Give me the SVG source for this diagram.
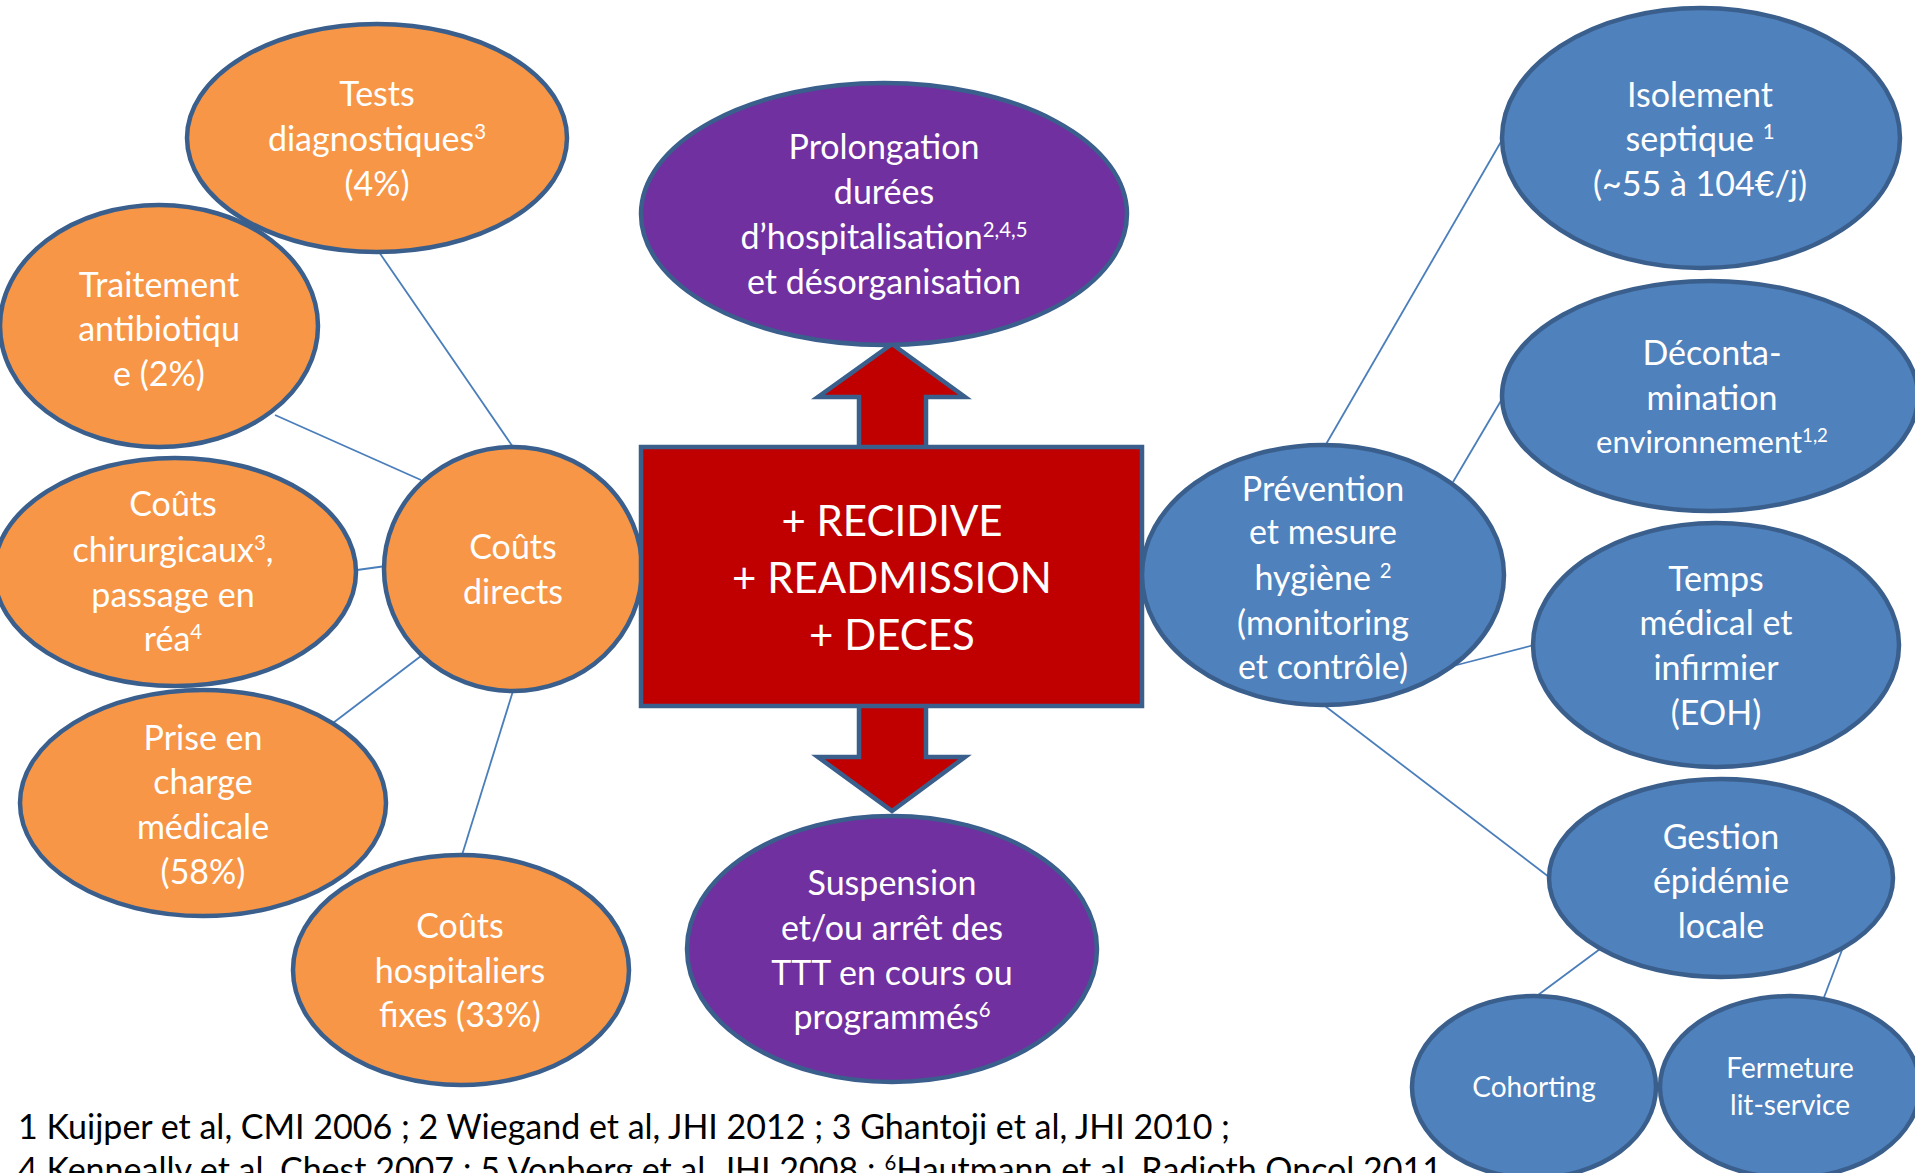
<svg xmlns="http://www.w3.org/2000/svg" width="1915" height="1173" viewBox="0 0 1915 1173">
<style>
.o{fill:#f79646;stroke:#3a5f8c;stroke-width:4.5}
.b{fill:#4f81bd;stroke:#3a5f8c;stroke-width:4.5}
.p{fill:#7030a0;stroke:#3a5f8c;stroke-width:4.5}
.r{fill:#c00000;stroke:#3a5f8c;stroke-width:4.5}
.t{font-family:Lato,"Liberation Sans",sans-serif;font-size:34px;fill:#fff;text-anchor:middle}
.s{font-size:60%}
.c{font-family:Lato,"Liberation Sans",sans-serif;font-size:42px;fill:#fff;text-anchor:middle}
.f{font-family:Lato,"Liberation Sans",sans-serif;font-size:34px;fill:#000}
.l{stroke:#4a7ebb;stroke-width:1.8;fill:none}
</style>
<rect width="1915" height="1173" fill="#fff"/>
<g id="connectors">
<line class="l" x1="379" y1="252" x2="513" y2="447"/>
<line class="l" x1="275" y1="415" x2="421" y2="480"/>
<line class="l" x1="357" y1="570" x2="386" y2="566"/>
<line class="l" x1="333" y1="723" x2="421" y2="656"/>
<line class="l" x1="462" y1="855" x2="513" y2="691"/>
<line class="l" x1="1325" y1="446" x2="1502" y2="140"/>
<line class="l" x1="1453" y1="482" x2="1502" y2="399"/>
<line class="l" x1="1453" y1="666" x2="1534" y2="645"/>
<line class="l" x1="1325" y1="706" x2="1549" y2="877"/>
<line class="l" x1="1600" y1="949" x2="1534" y2="998"/>
<line class="l" x1="1842" y1="950" x2="1823" y2="1000"/>
</g>
<g id="arrow-up"><polygon class="r" points="892,344 965,397 926,397 926,449 859,449 859,397 818,397"/></g>
<g id="arrow-down"><polygon class="r" points="859,704 926,704 926,757 965,757 892,811 818,757 859,757"/></g>
<g id="tests"><ellipse class="o" cx="377" cy="138" rx="190" ry="114"/>
<text class="t" x="377" y="106">Tests</text>
<text class="t" x="377" y="151">diagnostiques<tspan class="s" baseline-shift="super">3</tspan></text>
<text class="t" x="377" y="196">(4%)</text></g>
<g id="traitement"><ellipse class="o" cx="159" cy="326" rx="159" ry="121"/>
<text class="t" x="159" y="297">Traitement</text>
<text class="t" x="159" y="341">antibiotiqu</text>
<text class="t" x="159" y="386">e (2%)</text></g>
<g id="chirurgicaux"><ellipse class="o" cx="175" cy="572" rx="181" ry="114"/>
<text class="t" x="173" y="516">Coûts</text>
<text class="t" x="173" y="562">chirurgicaux<tspan class="s" baseline-shift="super">3</tspan>,</text>
<text class="t" x="173" y="607">passage  en</text>
<text class="t" x="173" y="651">réa<tspan class="s" baseline-shift="super">4</tspan></text></g>
<g id="directs"><ellipse class="o" cx="513" cy="569" rx="129" ry="122"/>
<text class="t" x="513" y="559">Coûts</text>
<text class="t" x="513" y="604">directs</text></g>
<g id="prise"><ellipse class="o" cx="203" cy="803" rx="183" ry="113"/>
<text class="t" x="203" y="750">Prise en</text>
<text class="t" x="203" y="794">charge</text>
<text class="t" x="203" y="839">médicale</text>
<text class="t" x="203" y="884">(58%)</text></g>
<g id="hospitaliers"><ellipse class="o" cx="461" cy="970" rx="168" ry="115"/>
<text class="t" x="460" y="938">Coûts</text>
<text class="t" x="460" y="983">hospitaliers</text>
<text class="t" x="460" y="1027">fixes (33%)</text></g>
<g id="prolongation"><ellipse class="p" cx="884" cy="214" rx="243" ry="131"/>
<text class="t" x="884" y="159">Prolongation</text>
<text class="t" x="884" y="204">durées</text>
<text class="t" x="884" y="249">d’hospitalisation<tspan class="s" baseline-shift="super">2,4,5</tspan></text>
<text class="t" x="884" y="294">et désorganisation</text></g>
<g id="centre"><rect class="r" x="641" y="447" width="501" height="259"/>
<text class="c" x="892" y="536">+ RECIDIVE</text>
<text class="c" x="892" y="593">+ READMISSION</text>
<text class="c" x="892" y="650">+ DECES</text></g>
<g id="suspension"><ellipse class="p" cx="892" cy="949" rx="205" ry="133"/>
<text class="t" x="892" y="895">Suspension</text>
<text class="t" x="892" y="940">et/ou arrêt des</text>
<text class="t" x="892" y="985">TTT en cours ou</text>
<text class="t" x="892" y="1029">programmés<tspan class="s" baseline-shift="super">6</tspan></text></g>
<g id="prevention"><ellipse class="b" cx="1323" cy="575" rx="181" ry="130"/>
<text class="t" x="1323" y="501">Prévention</text>
<text class="t" x="1323" y="544">et mesure</text>
<text class="t" x="1323" y="590">hygiène <tspan class="s" baseline-shift="super">2</tspan></text>
<text class="t" x="1323" y="635">(monitoring</text>
<text class="t" x="1323" y="679">et contrôle)</text></g>
<g id="isolement"><ellipse class="b" cx="1701" cy="138" rx="199" ry="130"/>
<text class="t" x="1700" y="107">Isolement</text>
<text class="t" x="1700" y="151">septique <tspan class="s" baseline-shift="super">1</tspan></text>
<text class="t" x="1700" y="196">(~55 à 104€/j)</text></g>
<g id="decontamination"><ellipse class="b" cx="1710" cy="396" rx="208" ry="115"/>
<text class="t" x="1712" y="365">Déconta-</text>
<text class="t" x="1712" y="410">mination</text>
<text class="t" x="1712" y="453" style="font-size:31px">environnement<tspan class="s" baseline-shift="super">1,2</tspan></text></g>
<g id="temps"><ellipse class="b" cx="1716" cy="645" rx="183" ry="122"/>
<text class="t" x="1716" y="591">Temps</text>
<text class="t" x="1716" y="635">médical et</text>
<text class="t" x="1716" y="680">infirmier</text>
<text class="t" x="1716" y="725">(EOH)</text></g>
<g id="gestion"><ellipse class="b" cx="1721" cy="878" rx="172" ry="99"/>
<text class="t" x="1721" y="849">Gestion</text>
<text class="t" x="1721" y="893">épidémie</text>
<text class="t" x="1721" y="938">locale</text></g>
<g id="cohorting"><ellipse class="b" cx="1534" cy="1087" rx="122" ry="91"/>
<text class="t" x="1534" y="1097" style="font-size:28px">Cohorting</text></g>
<g id="fermeture"><ellipse class="b" cx="1790" cy="1087" rx="130" ry="91"/>
<text class="t" x="1790" y="1078" style="font-size:28px">Fermeture</text>
<text class="t" x="1790" y="1115" style="font-size:28px">lit-service</text></g>
<g id="references">
<text class="f" x="18" y="1139">1 Kuijper et al, CMI 2006 ; 2 Wiegand et al, JHI 2012 ; 3 Ghantoji et al, JHI 2010 ;</text>
<text class="f" x="18" y="1182">4 Kenneally et al, Chest 2007 ; 5 Vonberg et al, JHI 2008 ; <tspan class="s" baseline-shift="super">6</tspan>Hautmann et al, Radioth Oncol 2011</text>
</g>
</svg>
